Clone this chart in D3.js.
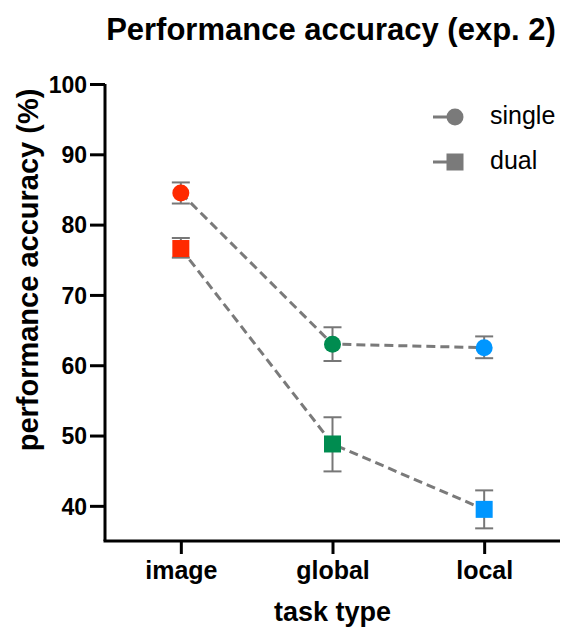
<!DOCTYPE html>
<html>
<head>
<meta charset="utf-8">
<script src="https://cdn.jsdelivr.net/npm/d3@7"></script>
<style>
  body { margin: 0; background: #fff; }
  svg { font-family: "Liberation Sans", Arial, sans-serif; }
</style>
</head>
<body>
<svg></svg>
<script>
const width = 566, height = 633;
const margin = { top: 84, right: 6, bottom: 92, left: 105 };
const innerWidth = width - margin.left - margin.right;
const innerHeight = height - margin.top - margin.bottom;

// data
const tasks = ["image", "global", "local"];
const taskColors = ["#ff2a00", "#008c50", "#0096ff"];
const singleMean = [84.5, 63.0, 62.5];
const singleLow = [83.0, 60.6, 61.0];
const singleHigh = [86.0, 65.4, 64.1];
const dualMean = [76.6, 48.8, 39.5];
const dualLow = [75.3, 44.9, 36.8];
const dualHigh = [78.1, 52.6, 42.2];
const yTicks = [40, 50, 60, 70, 80, 90, 100];

const series = [
    { name: "single", shape: "circle", mean: singleMean, low: singleLow, high: singleHigh },
    { name: "dual", shape: "square", mean: dualMean, low: dualLow, high: dualHigh }
];

const svg = d3.select("svg")
    .attr("width", width)
    .attr("height", height);

const g = svg.append("g")
    .attr("transform", `translate(${margin.left},${margin.top})`);

const xScale = d3.scalePoint().domain(tasks).range([0, innerWidth]).padding(0.5);
const yScale = d3.scaleLinear().domain([35, 100]).range([innerHeight, 0]);

// axes
const yAxis = g.append("g")
    .call(d3.axisLeft(yScale).tickValues(yTicks).tickSize(15).tickPadding(3));
const xAxis = g.append("g")
    .attr("transform", `translate(0,${innerHeight})`)
    .call(d3.axisBottom(xScale).tickSize(13).tickPadding(7));

[yAxis, xAxis].forEach(ax => {
    ax.select(".domain").attr("stroke", "#000").attr("stroke-width", 3);
    ax.selectAll(".tick line").attr("stroke", "#000").attr("stroke-width", 3);
    ax.selectAll("text")
        .attr("fill", "#000")
        .style("font-weight", "bold");
});
yAxis.selectAll("text").style("font-size", "23px").attr("dy", "0.36em");
xAxis.selectAll("text").style("font-size", "25px");
// plain axis lines, no outer ticks
yAxis.select(".domain").attr("d", `M0,${innerHeight}V${yScale(100)}`);
xAxis.select(".domain").attr("d", `M-1.5,0H${innerWidth}`);

const line = d3.line()
    .x((d, i) => xScale(tasks[i]))
    .y(d => yScale(d));

const sqSize = 17, circR = 8.5, capW = 9;

series.forEach(s => {
    g.append("path")
        .datum(s.mean)
        .attr("fill", "none")
        .attr("stroke", "#7a7a7a")
        .attr("stroke-width", 3)
        .attr("stroke-dasharray", "9,5")
        .attr("d", line);

    const eb = g.append("g").attr("stroke", "#777").attr("stroke-width", 2);
    tasks.forEach((t, i) => {
        const x = xScale(t);
        eb.append("line").attr("x1", x).attr("x2", x)
            .attr("y1", yScale(s.low[i])).attr("y2", yScale(s.high[i]));
        [s.low[i], s.high[i]].forEach(v => {
            eb.append("line").attr("x1", x - capW).attr("x2", x + capW)
                .attr("y1", yScale(v)).attr("y2", yScale(v));
        });
    });

    tasks.forEach((t, i) => {
        if (s.shape === "circle") {
            g.append("circle")
                .attr("cx", xScale(t)).attr("cy", yScale(s.mean[i]))
                .attr("r", circR).attr("fill", taskColors[i]);
        } else {
            g.append("rect")
                .attr("x", xScale(t) - sqSize / 2).attr("y", yScale(s.mean[i]) - sqSize / 2)
                .attr("width", sqSize).attr("height", sqSize).attr("fill", taskColors[i]);
        }
    });
});

// legend
const legend = svg.append("g").attr("transform", "translate(433,117)");
series.forEach((s, i) => {
    const row = legend.append("g").attr("transform", `translate(0,${i * 45})`);
    row.append("line").attr("x1", 0).attr("x2", 39).attr("y1", 0).attr("y2", 0)
        .attr("stroke", "#7a7a7a").attr("stroke-width", 3).attr("stroke-dasharray", "14,2,4,20");
    if (s.shape === "circle") {
        row.append("circle").attr("cx", 22).attr("cy", 0).attr("r", 8.5).attr("fill", "#7a7a7a");
    } else {
        row.append("rect").attr("x", 13.5).attr("y", -8.5).attr("width", 17).attr("height", 17).attr("fill", "#7a7a7a");
    }
    row.append("text").attr("x", 57).attr("y", 7)
        .style("font-size", "25px").attr("fill", "#000").text(s.name);
});

// titles
svg.append("text")
    .attr("x", 331).attr("y", 40)
    .attr("text-anchor", "middle")
    .style("font-size", "31px").style("font-weight", "bold")
    .text("Performance accuracy (exp. 2)");

svg.append("text")
    .attr("transform", `translate(${margin.left + innerWidth / 2},621)`)
    .attr("text-anchor", "middle")
    .style("font-size", "27px").style("font-weight", "bold")
    .text("task type");

svg.append("text")
    .attr("transform", `translate(38,270) rotate(-90)`)
    .attr("text-anchor", "middle")
    .style("font-size", "29px").style("font-weight", "bold")
    .text("performance accuracy (%)");
</script>
</body>
</html>
